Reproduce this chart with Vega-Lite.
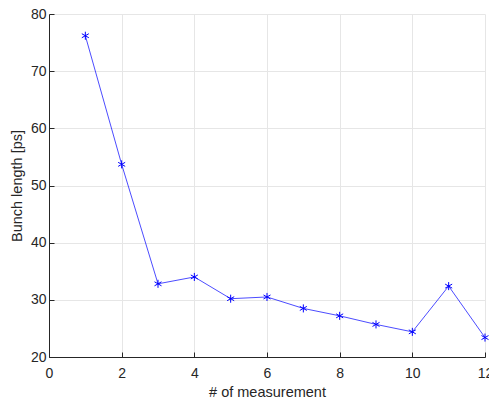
{
  "$schema": "https://vega.github.io/schema/vega-lite/v6.json",
  "autosize": {"type": "none"},
  "padding": {"left": 49, "top": 14, "right": 4, "bottom": 41},
  "width": 436,
  "height": 343,
  "background": "#ffffff",
  "config": {
    "view": {"stroke": null},
    "font": "Liberation Sans",
    "axis": {
      "grid": true,
      "gridColor": "#e6e6e6",
      "gridWidth": 1,
      "domainColor": "#262626",
      "domainWidth": 1,
      "tickColor": "#262626",
      "tickSize": -5,
      "labelColor": "#262626",
      "labelFontSize": 14,
      "labelFont": "Liberation Sans",
      "labelFlush": false,
      "titleFont": "Liberation Sans",
      "titleFontSize": 14.5,
      "titleFontWeight": "normal",
      "titleColor": "#262626"
    }
  },
  "data": {
    "values": [
      {"m": 1, "len": 76.2},
      {"m": 2, "len": 53.7},
      {"m": 3, "len": 32.8},
      {"m": 4, "len": 34.0},
      {"m": 5, "len": 30.2},
      {"m": 6, "len": 30.5},
      {"m": 7, "len": 28.5},
      {"m": 8, "len": 27.2},
      {"m": 9, "len": 25.7},
      {"m": 10, "len": 24.4},
      {"m": 11, "len": 32.4},
      {"m": 12, "len": 23.4}
    ]
  },
  "encoding": {
    "x": {
      "field": "m", "type": "quantitative",
      "scale": {"domain": [0, 12], "nice": false, "zero": false},
      "axis": {"values": [0, 2, 4, 6, 8, 10, 12], "title": "# of measurement", "labelPadding": 14, "labelFlush": false, "labelOverlap": false, "labelBound": false, "titlePadding": 5}
    },
    "y": {
      "field": "len", "type": "quantitative",
      "scale": {"domain": [20, 80], "nice": false, "zero": false},
      "axis": {"values": [20, 30, 40, 50, 60, 70, 80], "title": "Bunch length [ps]", "labelPadding": 8, "labelFlush": false, "titlePadding": 6}
    }
  },
  "layer": [
    {"mark": {"type": "line", "color": "#0000ff", "strokeWidth": 1, "opacity": 0.7}},
    {"mark": {"type": "point", "shape": "M0,-1L0,1M-0.87,-0.5L0.87,0.5M-0.87,0.5L0.87,-0.5", "filled": false, "color": "#0000ff", "size": 65, "strokeWidth": 1, "opacity": 1}}
  ]
}
